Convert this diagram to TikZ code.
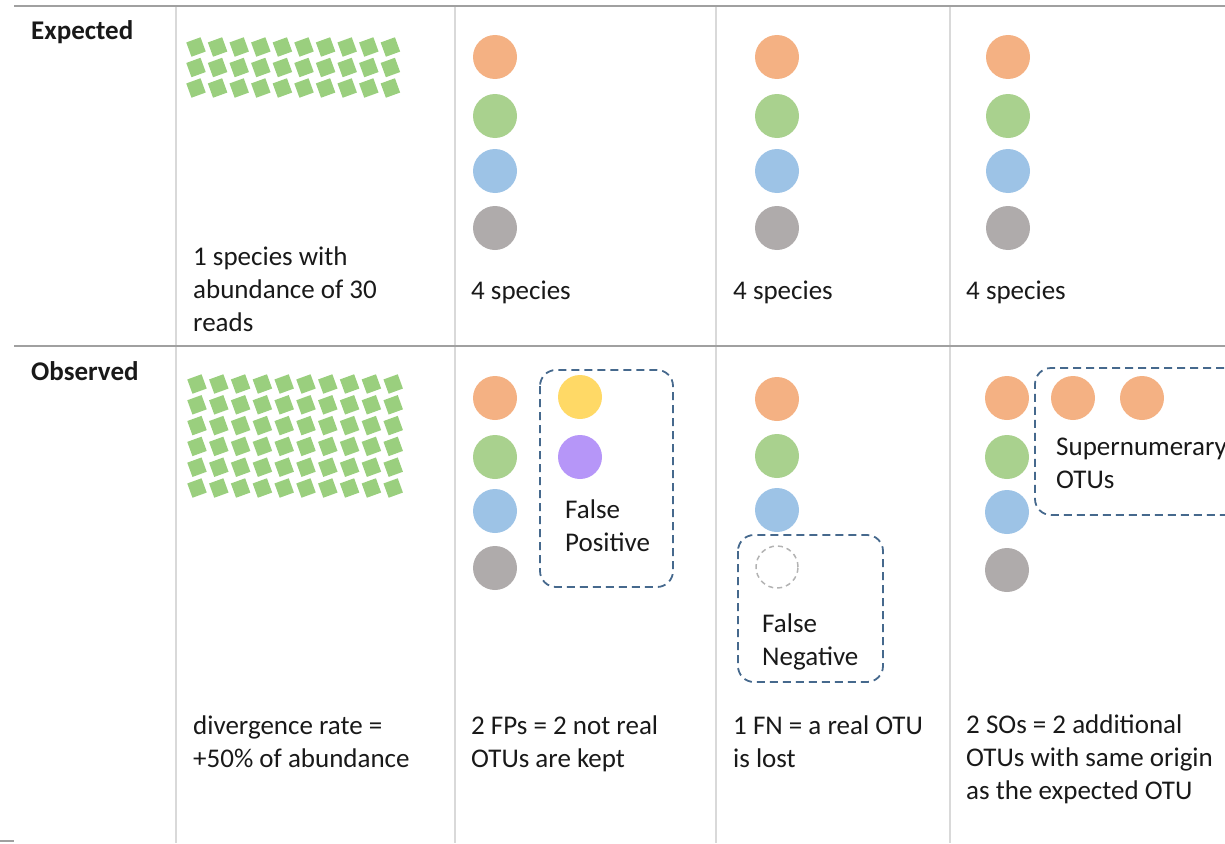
\documentclass[tikz,border=0pt]{standalone}
\usepackage{fontspec}
\setmainfont{Carlito}
\definecolor{sqgreen}{HTML}{9ACF7E}
\definecolor{corange}{HTML}{F4B183}
\definecolor{cgreen}{HTML}{A9D18E}
\definecolor{cblue}{HTML}{9DC3E6}
\definecolor{cgray}{HTML}{AFABAB}
\definecolor{cyellow}{HTML}{FFD966}
\definecolor{cpurple}{HTML}{B696F8}
\definecolor{dashblue}{HTML}{46698D}
\definecolor{rulegray}{HTML}{A0A0A0}
\definecolor{vgray}{HTML}{D9D9D9}
\tikzset{
  txt/.style={font=\fontsize{27}{33}\selectfont, align=left, anchor=base west, inner sep=0pt, text=black!90},
  hdr/.style={txt, font=\fontsize{27}{33}\selectfont\bfseries},
  hrule/.style={draw=rulegray, line width=2.5pt},
  vrule/.style={draw=vgray, line width=2pt},
  dbox/.style={draw=dashblue, line width=1.8pt, dash pattern=on 8pt off 5pt, rounded corners=16pt},
}
\newcommand{\greensq}[2]{\fill[sqgreen, rotate around={20:(#1,#2)}] (#1-7.6,#2-7.6) rectangle (#1+7.6,#2+7.6);}
\begin{document}
\begin{tikzpicture}[x=1pt,y=1pt]
\useasboundingbox (0,0) rectangle (1225,-843);
% rules
\draw[vrule] (176,-6) -- (176,-843);
\draw[vrule] (455,-6) -- (455,-843);
\draw[vrule] (716,-6) -- (716,-843);
\draw[vrule] (950,-6) -- (950,-843);
\draw[hrule] (14,-6) -- (1225,-6);
\draw[hrule] (14,-346) -- (1225,-346);
\draw[hrule] (0,-841) -- (14,-841);
% headers
\node[hdr] (exp) at (31,-40) {Expected};
\node[hdr] (obs) at (31,-380) {Observed};
% green squares expected
\foreach \i in {0,...,9}{
  \foreach \j in {0,1,2}{
    \pgfmathsetmacro{\xx}{196+21.6*\i}
    \pgfmathsetmacro{\yy}{-(47+20.5*\j)}
    \greensq{\xx}{\yy}
  }
}
% green squares observed
\foreach \i in {0,...,9}{
  \foreach \j in {0,...,5}{
    \pgfmathsetmacro{\xx}{197+21.8*\i}
    \pgfmathsetmacro{\yy}{-(384+20.8*\j)}
    \greensq{\xx}{\yy}
  }
}
% expected circles
\foreach \cx in {495,777,1008}{
  \fill[corange] (\cx,-57) circle (22);
  \fill[cgreen] (\cx,-116) circle (22);
  \fill[cblue] (\cx,-171) circle (22);
  \fill[cgray] (\cx,-228) circle (22);
}
% observed col 2
\fill[corange] (495,-398) circle (22);
\fill[cgreen] (495,-457) circle (22);
\fill[cblue] (495,-511) circle (22);
\fill[cgray] (495,-568) circle (22);
\fill[cyellow] (580,-397) circle (22);
\fill[cpurple] (580,-457) circle (22);
\draw[dbox] (540,-370) rectangle (673,-587);
\node[txt] (fp) at (565,-551) {False\\Positive};
% observed col 3
\fill[corange] (777,-399) circle (22);
\fill[cgreen] (777,-456) circle (22);
\fill[cblue] (777,-510) circle (22);
\draw[dbox] (738,-535) rectangle (883,-682);
\draw[draw=rulegray!80, line width=1.5pt, dash pattern=on 5pt off 4pt] (777,-567) circle (21);
\node[txt] (fn) at (762,-665) {False\\Negative};
% observed col 4
\fill[corange] (1007,-398) circle (22);
\fill[cgreen] (1007,-457) circle (22);
\fill[cblue] (1007,-512) circle (22);
\fill[cgray] (1007,-570) circle (22);
\fill[corange] (1073,-398) circle (22);
\fill[corange] (1142,-398) circle (22);
\draw[dbox] (1250,-368) -- (1035,-368) -- (1035,-515) -- (1250,-515);
\node[txt] (so) at (1056,-488) {Supernumerary\\OTUs};
% texts top
\node[txt] (t1) at (193,-331) {1 species with\\abundance of 30\\reads};
\node[txt] (t2) at (471,-299) {4 species};
\node[txt] (t3) at (733,-299) {4 species};
\node[txt] (t4) at (966,-299) {4 species};
% texts bottom
\node[txt] (b1) at (193,-767) {divergence rate =\\+50\% of abundance};
\node[txt] (b2) at (471,-767) {2 FPs = 2 not real\\OTUs are kept};
\node[txt] (b3) at (733,-767) {1 FN = a real OTU\\is lost};
\node[txt] (b4) at (966,-799) {2 SOs = 2 additional\\OTUs with same origin\\as the expected OTU};
\end{tikzpicture}
\end{document}
